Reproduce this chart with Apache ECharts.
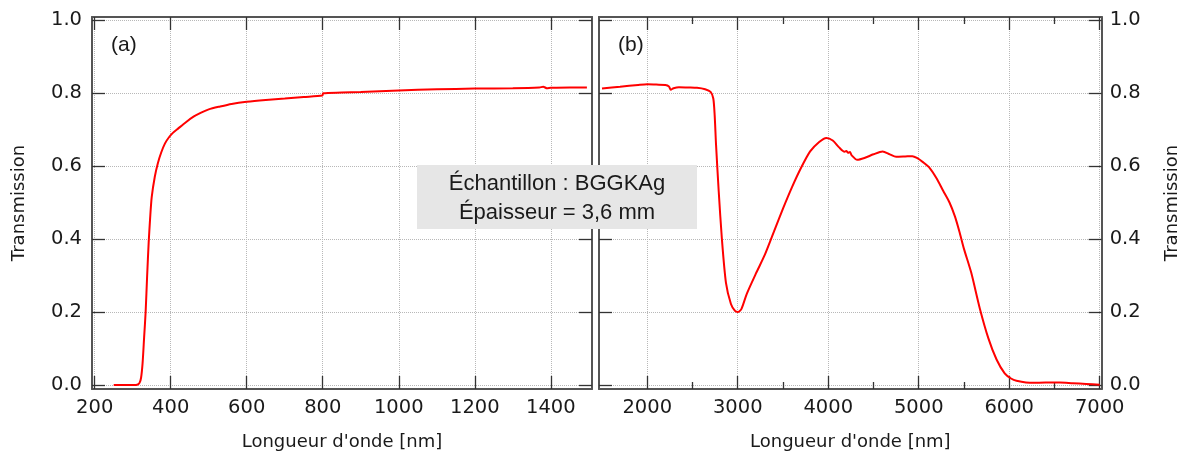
<!DOCTYPE html>
<html>
<head>
<meta charset="utf-8">
<script src="https://cdn.jsdelivr.net/npm/echarts@6/dist/echarts.min.js"></script>
<style>html,body{margin:0;padding:0;background:#fff;}#c{width:1185px;height:456px;}</style>
</head>
<body>
<div id="c"></div>
<script>
// ---- data ----
const leftWl = [250, 300, 312, 318, 322, 326, 330, 334, 338, 342, 346, 350, 358, 366, 375, 385, 395, 405, 420, 440, 460, 480, 500, 530, 560, 600, 650, 700, 750, 799, 801, 850, 900, 1000, 1100, 1200, 1300, 1370, 1380, 1390, 1400, 1450, 1495];
const leftT = [0, 0, 0.001, 0.006, 0.02, 0.06, 0.13, 0.2, 0.3, 0.39, 0.46, 0.515, 0.57, 0.607, 0.637, 0.662, 0.678, 0.69, 0.703, 0.72, 0.735, 0.746, 0.755, 0.763, 0.77, 0.776, 0.781, 0.785, 0.789, 0.793, 0.799, 0.801, 0.803, 0.807, 0.81, 0.812, 0.813, 0.815, 0.817, 0.813, 0.814, 0.815, 0.815];

const rightWl = [1500, 1700, 1900, 2000, 2100, 2200, 2240, 2260, 2290, 2350, 2450, 2550, 2640, 2700, 2730, 2745, 2760, 2790, 2825, 2870, 2925, 2970, 3000, 3040, 3100, 3200, 3300, 3400, 3500, 3600, 3700, 3800, 3900, 3980, 4050, 4120, 4180, 4200, 4220, 4240, 4260, 4320, 4400, 4500, 4600, 4680, 4750, 4850, 4930, 4980, 5050, 5120, 5200, 5270, 5340, 5400, 5450, 5500, 5580, 5675, 5770, 5860, 5950, 6020, 6080, 6260, 6400, 6560, 6700, 6850, 7000];
const rightT = [0.812, 0.817, 0.822, 0.824, 0.823, 0.822, 0.818, 0.809, 0.813, 0.816, 0.815, 0.814, 0.81, 0.803, 0.785, 0.74, 0.66, 0.53, 0.4, 0.28, 0.222, 0.203, 0.2, 0.208, 0.25, 0.305, 0.357, 0.42, 0.483, 0.542, 0.595, 0.64, 0.666, 0.677, 0.67, 0.651, 0.639, 0.641, 0.636, 0.638, 0.629, 0.617, 0.622, 0.632, 0.64, 0.632, 0.625, 0.626, 0.627, 0.622, 0.61, 0.595, 0.565, 0.532, 0.5, 0.462, 0.42, 0.373, 0.308, 0.21, 0.128, 0.07, 0.032, 0.018, 0.012, 0.006, 0.007, 0.007, 0.005, 0.003, 0.001];

const xTicksA = [200, 400, 600, 800, 1000, 1200, 1400];
const xTicksB = [2000, 3000, 4000, 5000, 6000, 7000];
const xMinorB = [2500, 3500, 4500, 5500, 6500];
const yTicks = [0, 0.2, 0.4, 0.6, 0.8, 1.0];

const xLabel = "Longueur d'onde [nm]";
const yLabel = "Transmission";
const panelA = "(a)";
const panelB = "(b)";
const boxText = "Échantillon : BGGKAg\nÉpaisseur = 3,6 mm";

// ---- style ----
const frameColor = '#555';
const tickColor = '#333';
const textColor = '#1a1a1a';
const fontFam = '"DejaVu Sans", sans-serif';
const sansFam = '"Liberation Sans", Arial, sans-serif';
const yMin = -0.0108, yMax = 1.0081;
const xMinA = 192.9, xMaxA = 1508.4;
const xMinB = 1467, xMaxB = 7022;

function frameLine() { return { show: true, onZero: false, lineStyle: { color: frameColor, width: 2 } }; }
function ticks(vals, len) { return { show: true, inside: true, length: len, customValues: vals, lineStyle: { color: tickColor, width: 1.3 } }; }
const split = { show: true, lineStyle: { color: '#b8b8b8', type: 'dotted', width: 1 } };
const noSplit = { show: false };
const labelStyle = (vals, fmt, margin) => ({ show: true, customValues: vals, formatter: fmt, margin: margin, fontSize: 19.5, fontFamily: fontFam, color: textColor });
const nameStyle = { fontSize: 18, fontFamily: fontFam, color: textColor };

const chart = echarts.init(document.getElementById('c'), null, { renderer: 'canvas' });
chart.setOption({
  animation: false,
  grid: [
    { left: 92, top: 17, width: 500, height: 378 },
    { left: 599, top: 17, width: 502.7, height: 378 }
  ],
  xAxis: [
    { gridIndex: 0, type: 'value', position: 'bottom', min: xMinA, max: xMaxA, axisLine: frameLine(), axisTick: ticks(xTicksA, 13),
      axisLabel: labelStyle(xTicksA, v => String(v), 9), splitLine: split,
      name: xLabel, nameLocation: 'middle', nameGap: 44, nameTextStyle: nameStyle },
    { gridIndex: 0, type: 'value', position: 'top', min: xMinA, max: xMaxA, axisLine: frameLine(), axisTick: ticks(xTicksA, 13),
      axisLabel: { show: false }, splitLine: noSplit },
    { gridIndex: 1, type: 'value', position: 'bottom', min: xMinB, max: xMaxB, axisLine: frameLine(), axisTick: ticks(xTicksB, 13),
      axisLabel: labelStyle(xTicksB, v => String(v), 9), splitLine: split,
      name: xLabel, nameLocation: 'middle', nameGap: 44, nameTextStyle: nameStyle },
    { gridIndex: 1, type: 'value', position: 'top', min: xMinB, max: xMaxB, axisLine: frameLine(), axisTick: ticks(xTicksB, 13),
      axisLabel: { show: false }, splitLine: noSplit },
    { gridIndex: 1, type: 'value', position: 'bottom', min: xMinB, max: xMaxB, axisLine: { show: false, onZero: false }, axisTick: ticks(xMinorB, 7),
      axisLabel: { show: false }, splitLine: noSplit },
    { gridIndex: 1, type: 'value', position: 'top', min: xMinB, max: xMaxB, axisLine: { show: false, onZero: false }, axisTick: ticks(xMinorB, 7),
      axisLabel: { show: false }, splitLine: noSplit }
  ],
  yAxis: [
    { gridIndex: 0, type: 'value', position: 'left', min: yMin, max: yMax, axisLine: frameLine(), axisTick: ticks(yTicks, 13),
      axisLabel: labelStyle(yTicks, v => v.toFixed(1), 10), splitLine: split,
      name: yLabel, nameLocation: 'middle', nameGap: 64, nameTextStyle: nameStyle },
    { gridIndex: 0, type: 'value', position: 'right', min: yMin, max: yMax, axisLine: frameLine(), axisTick: ticks(yTicks, 13),
      axisLabel: { show: false }, splitLine: noSplit },
    { gridIndex: 1, type: 'value', position: 'left', min: yMin, max: yMax, axisLine: frameLine(), axisTick: ticks(yTicks, 13),
      axisLabel: { show: false }, splitLine: noSplit },
    { gridIndex: 1, type: 'value', position: 'right', min: yMin, max: yMax, axisLine: frameLine(), axisTick: ticks(yTicks, 13),
      axisLabel: labelStyle(yTicks, v => v.toFixed(1), 8), splitLine: split,
      name: yLabel, nameLocation: 'middle', nameGap: 62, nameTextStyle: nameStyle }
  ],
  series: [
    { type: 'line', xAxisIndex: 0, yAxisIndex: 0, showSymbol: false, smooth: 0.25,
      lineStyle: { color: '#ff0000', width: 2 }, data: leftWl.map((w, i) => [w, leftT[i]]), z: 5 },
    { type: 'line', xAxisIndex: 2, yAxisIndex: 3, showSymbol: false, smooth: 0.25,
      lineStyle: { color: '#ff0000', width: 2 }, data: rightWl.map((w, i) => [w, rightT[i]]), z: 5 }
  ],
  graphic: [
    { type: 'text', left: 111, top: 35, z: 50, style: { text: panelA, fontSize: 21, fontFamily: sansFam, fill: textColor } },
    { type: 'text', left: 618, top: 35, z: 50, style: { text: panelB, fontSize: 21, fontFamily: sansFam, fill: textColor } },
    { type: 'group', left: 417, top: 165, z: 100, children: [
      { type: 'rect', z: 100, shape: { x: 0, y: 0, width: 280, height: 64 }, style: { fill: '#e6e6e6' } },
      { type: 'text', z: 101, x: 140, y: 33, style: { text: boxText, fontSize: 22, fontFamily: sansFam, fill: '#1a1a1a', align: 'center', verticalAlign: 'middle', lineHeight: 29 } }
    ] }
  ]
});
</script>
</body>
</html>
